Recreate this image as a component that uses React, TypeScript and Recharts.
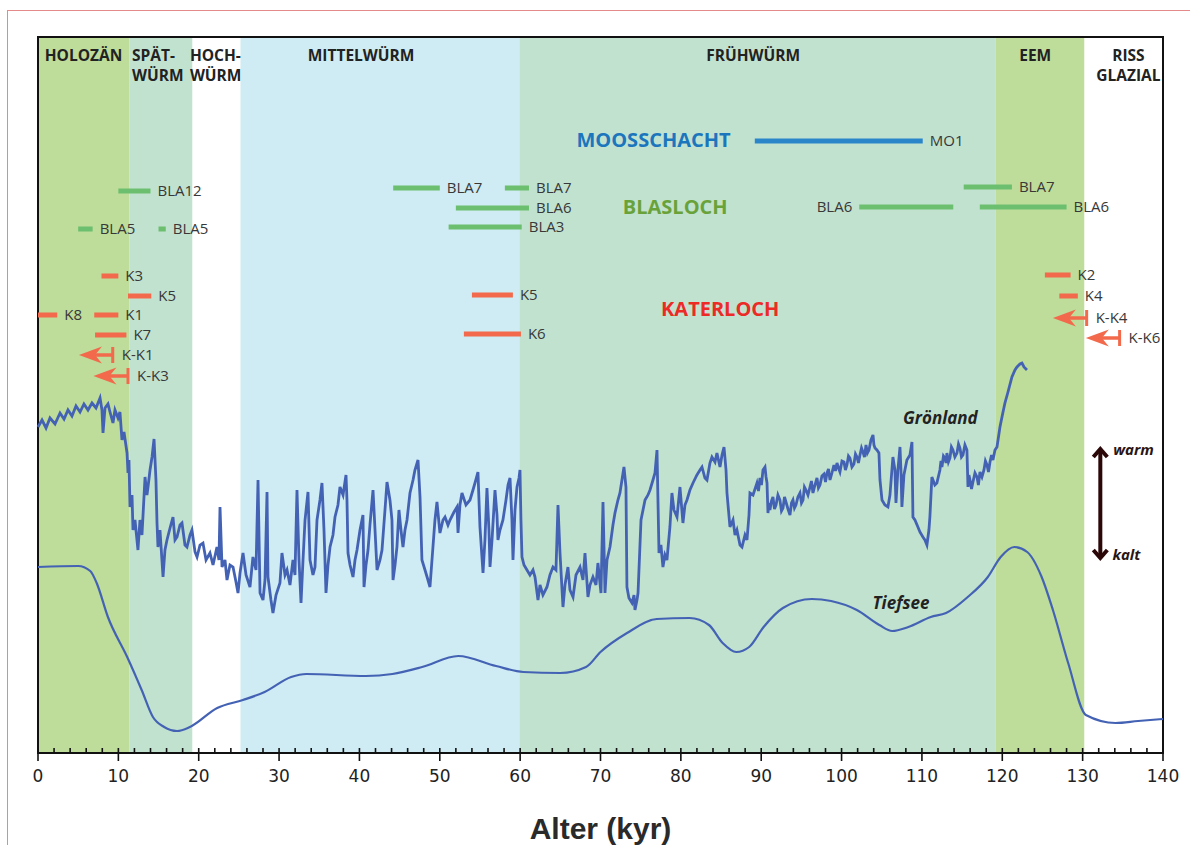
import React from 'react';
import { ComposedChart, XAxis, YAxis, Line, Scatter, ReferenceArea, ReferenceLine } from 'recharts';

const W = 1190;
const H = 845;
const FONT = "'Open Sans', 'DejaVu Sans', sans-serif";
const GREEN = '#6cbf6e';
const RED = '#f26a4b';
const BLUE = '#2a86c9';
const CURVE = '#4462b4';

// x axis ticks (kyr); labelled every 10
const xTicks = [0, 2, 4, 6, 8, 10, 12, 14, 16, 18, 20, 22, 24, 26, 28, 30, 32, 34, 36, 38, 40, 42, 44, 46, 48, 50, 52, 54, 56, 58, 60, 62, 64, 66, 68, 70, 72, 74, 76, 78, 80, 82, 84, 86, 88, 90, 92, 94, 96, 98, 100, 102, 104, 106, 108, 110, 112, 114, 116, 118, 120, 122, 124, 126, 128, 130, 132, 134, 136, 138, 140];

// climate periods (kyr)
const periodBounds = [
  { from: 0, to: 11.4, kind: 'warm' },
  { from: 11.4, to: 19.2, kind: 'late' },
  { from: 25.2, to: 59.9, kind: 'mid' },
  { from: 59.9, to: 119.2, kind: 'late' },
  { from: 119.2, to: 130.2, kind: 'warm' },
];
const periodFill: Record<string, string> = { warm: '#bedc9a', late: '#c2e2d0', mid: '#cfebf3' };

const periodLabels = [
  { age: 5.66, value: 698, lines: ['HOLOZÄN'], anchor: 'middle' },
  { age: 11.7, value: 698, lines: ['SPÄT-', 'WÜRM'], anchor: 'start' },
  { age: 18.9, value: 698, lines: ['HOCH-', 'WÜRM'], anchor: 'start' },
  { age: 40.2, value: 698, lines: ['MITTELWÜRM'], anchor: 'middle' },
  { age: 89.0, value: 698, lines: ['FRÜHWÜRM'], anchor: 'middle' },
  { age: 124.1, value: 698, lines: ['EEM'], anchor: 'middle' },
  { age: 135.7, value: 698, lines: ['RISS', 'GLAZIAL'], anchor: 'middle' },
];

const siteTitles = [
  { age: 76.6, value: 613, text: 'MOOSSCHACHT', site: 'moos' },
  { age: 79.3, value: 546, text: 'BLASLOCH', site: 'bla' },
  { age: 84.9, value: 444, text: 'KATERLOCH', site: 'kat' },
];
const siteColor: Record<string, string> = { moos: '#1b76bd', bla: '#6aa23a', kat: '#ec2a26' };

const curveLabels = [
  { age: 112.3, value: 335, text: 'Grönland' },
  { age: 107.4, value: 150, text: 'Tiefsee' },
];

const tempLabels = [
  { age: 133.8, value: 303, text: 'warm' },
  { age: 133.7, value: 198, text: 'kalt' },
];
const tempArrow = { age: 132.2, top: 306, bottom: 193 };

// dating ranges
const moosschachtBars = [{ label: 'MO1', from: 89.2, to: 110.1, level: 612, side: 'right' }];

const blaslochBars = [
  { label: 'BLA12', from: 10.0, to: 14.0, level: 562, side: 'right' },
  { label: 'BLA5', from: 5.0, to: 6.8, level: 524, side: 'right' },
  { label: 'BLA5', from: 15.0, to: 15.9, level: 524, side: 'right' },
  { label: 'BLA7', from: 44.2, to: 50.0, level: 565, side: 'right' },
  { label: 'BLA7', from: 58.1, to: 61.1, level: 565, side: 'right' },
  { label: 'BLA6', from: 52.0, to: 61.1, level: 545, side: 'right' },
  { label: 'BLA3', from: 51.1, to: 60.2, level: 526, side: 'right' },
  { label: 'BLA7', from: 115.2, to: 121.2, level: 566, side: 'right' },
  { label: 'BLA6', from: 102.2, to: 113.9, level: 546, side: 'left' },
  { label: 'BLA6', from: 117.2, to: 128.0, level: 546, side: 'right' },
];

const katerlochBars = [
  { label: 'K3', from: 7.9, to: 10.0, level: 477, side: 'right' },
  { label: 'K5', from: 11.2, to: 14.1, level: 457, side: 'right' },
  { label: 'K8', from: 0.0, to: 2.4, level: 438, side: 'right' },
  { label: 'K1', from: 7.0, to: 10.0, level: 438, side: 'right' },
  { label: 'K7', from: 7.1, to: 11.0, level: 418, side: 'right' },
  { label: 'K5', from: 54.0, to: 59.1, level: 458, side: 'right' },
  { label: 'K6', from: 53.0, to: 60.1, level: 419, side: 'right' },
  { label: 'K2', from: 125.3, to: 128.5, level: 478, side: 'right' },
  { label: 'K4', from: 127.1, to: 129.4, level: 457, side: 'right' },
];

const katerlochArrows = [
  { label: 'K-K1', tip: 5.1, at: 9.3, level: 398 },
  { label: 'K-K3', tip: 6.9, at: 11.2, level: 377 },
  { label: 'K-K4', tip: 126.3, at: 130.5, level: 435 },
  { label: 'K-K6', tip: 130.4, at: 134.6, level: 415 },
];

// Greenland ice core record [age kyr, relative value]
const greenland: [number, number][] = [
  [0, 326], [0.5, 333], [1.0, 325], [1.49, 335], [2.12, 329], [2.74, 340], [3.24, 334], [3.73, 343], [4.23, 337], [4.73, 347],
  [5.23, 341], [5.72, 349], [6.22, 343], [6.72, 350], [7.22, 345], [7.72, 355], [7.96, 343], [8.09, 320], [8.34, 345], [8.71, 349],
  [8.96, 341], [9.33, 330], [9.58, 343], [9.96, 335], [10.2, 341], [10.45, 313], [10.7, 321], [11.08, 300], [11.2, 280], [11.32, 293],
  [11.45, 246], [11.7, 258], [11.82, 223], [12.07, 233], [12.44, 203], [12.69, 233], [12.94, 218], [13.32, 276], [13.56, 258], [13.69, 266],
  [13.94, 283], [14.19, 296], [14.44, 314], [14.68, 273], [14.81, 230], [14.93, 206], [15.18, 223], [15.56, 176], [15.8, 203], [16.05, 213],
  [16.43, 225], [16.8, 236], [17.05, 213], [17.3, 216], [17.67, 228], [17.92, 230], [18.29, 208], [18.54, 206], [18.92, 218], [19.16, 223],
  [19.54, 201], [19.79, 196], [20.16, 208], [20.53, 210], [20.91, 193], [21.4, 200], [21.78, 188], [22.27, 206], [22.52, 193], [22.65, 246],
  [22.9, 186], [23.27, 193], [23.52, 173], [23.89, 188], [24.27, 186], [24.64, 171], [24.89, 160], [25.14, 180], [25.51, 200], [25.89, 178],
  [26.38, 166], [26.75, 196], [27.13, 183], [27.38, 273], [27.63, 160], [28.0, 153], [28.25, 173], [28.5, 261], [28.62, 176], [28.99, 153],
  [29.24, 140], [29.62, 158], [30.11, 170], [30.36, 200], [30.74, 178], [30.99, 183], [31.36, 168], [31.73, 193], [31.98, 178], [32.23, 263],
  [32.48, 193], [32.73, 150], [32.98, 193], [33.23, 233], [33.6, 261], [33.85, 193], [34.22, 178], [34.47, 186], [34.72, 233], [35.09, 253],
  [35.34, 270], [35.59, 223], [35.71, 193], [35.84, 160], [36.09, 188], [36.34, 206], [36.71, 218], [36.96, 236], [37.33, 248], [37.58, 266],
  [37.96, 258], [38.33, 278], [38.45, 253], [38.58, 200], [38.83, 188], [39.2, 176], [39.45, 193], [39.7, 203], [40.07, 223], [40.44, 238],
  [40.57, 166], [40.82, 188], [41.07, 203], [41.31, 228], [41.69, 263], [41.94, 223], [42.19, 183], [42.56, 193], [42.81, 203], [43.18, 243],
  [43.43, 271], [43.8, 253], [44.05, 233], [44.18, 173], [44.43, 188], [44.67, 206], [44.92, 243], [45.17, 223], [45.42, 206], [45.67, 223],
  [45.92, 233], [46.29, 260], [46.67, 273], [46.91, 283], [47.29, 293], [47.54, 256], [47.78, 193], [48.16, 183], [48.53, 173], [48.78, 166],
  [49.15, 206], [49.4, 233], [49.65, 251], [50.02, 220], [50.4, 233], [50.65, 236], [51.02, 228], [51.27, 233], [51.77, 241], [52.14, 246],
  [52.27, 220], [52.51, 248], [52.76, 260], [53.26, 248], [53.76, 253], [54.13, 263], [54.38, 270], [54.75, 281], [55.0, 226], [55.38, 180],
  [55.62, 213], [55.87, 265], [56.12, 223], [56.25, 186], [56.5, 213], [56.87, 263], [57.12, 238], [57.24, 213], [57.49, 223], [57.86, 233],
  [58.24, 253], [58.49, 268], [58.74, 275], [58.98, 233], [59.11, 193], [59.36, 243], [59.61, 266], [59.86, 275], [59.98, 283], [60.1, 233],
  [60.23, 196], [60.48, 188], [60.85, 183], [61.22, 178], [61.6, 183], [61.85, 176], [62.22, 153], [62.47, 168], [62.84, 158], [63.34, 166],
  [63.71, 178], [64.09, 186], [64.46, 183], [64.71, 248], [64.96, 200], [65.33, 146], [65.58, 168], [65.95, 186], [66.2, 163], [66.58, 156],
  [66.95, 178], [67.45, 186], [67.82, 173], [68.07, 200], [68.44, 156], [68.69, 168], [69.06, 176], [69.44, 168], [69.68, 190], [70.06, 160],
  [70.31, 251], [70.56, 160], [70.81, 193], [71.18, 206], [71.55, 228], [71.8, 240], [72.17, 253], [72.42, 260], [72.67, 273], [72.92, 286],
  [73.17, 266], [73.29, 166], [73.54, 155], [73.92, 150], [74.17, 158], [74.29, 143], [74.54, 153], [74.67, 160], [75.04, 233], [75.29, 243],
  [75.54, 253], [75.91, 258], [76.16, 263], [76.53, 273], [76.78, 280], [77.03, 303], [77.28, 200], [77.52, 208], [77.77, 186], [78.02, 198],
  [78.27, 193], [78.64, 226], [78.89, 260], [79.14, 243], [79.52, 236], [79.89, 266], [80.26, 230], [80.51, 248], [80.76, 253], [81.13, 263],
  [81.51, 270], [82.0, 278], [82.38, 283], [82.63, 286], [83.0, 275], [83.25, 273], [83.62, 290], [83.87, 296], [84.25, 291], [84.49, 300],
  [84.87, 286], [85.12, 298], [85.37, 306], [85.62, 283], [85.74, 260], [86.11, 226], [86.49, 233], [86.74, 218], [86.98, 223], [87.36, 208],
  [87.61, 206], [87.98, 218], [88.23, 213], [88.48, 238], [88.6, 260], [88.98, 258], [89.47, 270], [89.66, 262], [89.85, 275], [90.03, 268],
  [90.22, 283], [90.47, 286], [90.6, 276], [90.72, 270], [90.84, 240], [90.96, 250], [91.09, 243], [91.27, 252], [91.46, 256], [91.65, 244],
  [91.84, 248], [92.08, 258], [92.33, 253], [92.52, 242], [92.71, 245], [92.9, 256], [93.08, 251], [93.33, 244], [93.58, 238], [93.77, 250],
  [93.95, 253], [94.14, 245], [94.32, 248], [94.57, 256], [94.82, 260], [95.01, 250], [95.2, 253], [95.38, 266], [95.57, 263], [95.82, 258],
  [96.07, 266], [96.25, 272], [96.44, 260], [96.69, 268], [96.94, 275], [97.12, 265], [97.31, 268], [97.56, 277], [97.81, 279], [98.0, 271],
  [98.18, 280], [98.37, 284], [98.56, 273], [98.8, 280], [99.05, 288], [99.24, 282], [99.43, 290], [99.62, 285], [99.8, 281], [100.05, 292],
  [100.3, 291], [100.48, 283], [100.67, 288], [100.86, 297], [101.04, 295], [101.29, 286], [101.54, 289], [101.73, 299], [101.92, 296], [102.1, 290],
  [102.29, 298], [102.48, 305], [102.66, 301], [102.85, 296], [103.04, 308], [103.22, 300], [103.41, 303], [103.66, 313], [103.91, 318], [104.03, 308],
  [104.16, 305], [104.4, 303], [104.65, 300], [104.78, 273], [105.03, 253], [105.4, 248], [105.77, 246], [106.02, 258], [106.39, 296], [106.64, 283],
  [106.77, 250], [107.01, 283], [107.27, 306], [107.39, 283], [107.51, 246], [107.76, 278], [108.13, 293], [108.51, 298], [108.76, 311], [108.88, 236],
  [109.13, 233], [109.5, 226], [109.75, 221], [110.12, 216], [110.37, 213], [110.62, 208], [110.87, 223], [110.99, 236], [111.24, 276], [111.61, 268],
  [111.86, 270], [112.24, 283], [112.37, 292], [112.49, 286], [112.68, 297], [112.86, 295], [113.0, 290], [113.11, 300], [113.3, 291], [113.49, 295],
  [113.67, 306], [113.86, 303], [114.1, 296], [114.36, 300], [114.55, 309], [114.73, 305], [114.92, 296], [115.11, 298], [115.35, 308], [115.6, 303],
  [115.73, 266], [115.85, 278], [115.98, 273], [116.17, 264], [116.35, 271], [116.6, 280], [116.85, 276], [117.03, 268], [117.22, 281], [117.47, 276],
  [117.72, 283], [117.9, 292], [118.1, 288], [118.28, 281], [118.47, 291], [118.66, 298], [118.84, 293], [119.09, 303], [119.34, 306], [119.71, 326],
  [120.09, 341], [120.33, 350], [120.71, 361], [121.2, 376], [121.58, 383], [121.83, 386], [122.2, 389], [122.45, 390], [122.7, 386], [123.07, 383],
];

// Deep-sea record [age kyr, relative value]
const tiefsee: [number, number][] = [
  [0, 186], [5.0, 187], [6.5, 182], [7.3, 170], [8.7, 136], [11.1, 96], [12.9, 63], [14.3, 36], [15.7, 26], [17.3, 22],
  [18.9, 26], [22.3, 45], [25.5, 53], [28.2, 61], [31.5, 76], [33.4, 79], [40.8, 77], [44.1, 79], [47.8, 86], [52.3, 97],
  [57.0, 87], [60.4, 81], [65.0, 80], [68.2, 86], [70.0, 101], [73.3, 120], [77.0, 134], [81.1, 135], [83.5, 128], [85.2, 110],
  [86.9, 101], [88.5, 106], [90.3, 126], [92.7, 145], [96.3, 154], [98.7, 152], [101.9, 143], [104.7, 128], [106.3, 122], [108.3, 126],
  [111.1, 136], [113.0, 140], [115.7, 156], [118.2, 176], [119.8, 196], [121.5, 206], [123.1, 201], [124.9, 176], [126.3, 143], [128.2, 90],
  [130.4, 38], [134.1, 30], [136.9, 32], [140, 34],
];

const greenlandData = greenland.map(([age, value]) => ({ age, value }));
const tiefseeData = tiefsee.map(([age, value]) => ({ age, value }));

const AgeTick = (props: any) => {
  const { x, y, payload } = props;
  const v = payload.value;
  const major = v % 10 === 0;
  return (
    <g>
      <line x1={x} x2={x} y1={y - 5} y2={major ? y + 8 : y} stroke="#111" strokeWidth={1.6} />
      {major && (
        <text x={x} y={y + 29} textAnchor="middle" fontFamily="'DejaVu Sans', sans-serif" fontSize={17} fill="#222">
          {v}
        </text>
      )}
    </g>
  );
};

const PeriodLabel = (props: any) => {
  const { cx, cy, payload } = props;
  return (
    <text x={cx} y={cy + 6} textAnchor={payload.anchor} fontFamily={FONT} fontWeight={700} fontSize={15.5} fill="#222">
      {payload.lines.map((l: string, i: number) => (
        <tspan key={i} x={cx} dy={i === 0 ? 0 : 20}>{l}</tspan>
      ))}
    </text>
  );
};

const SiteTitle = (props: any) => {
  const { cx, cy, payload } = props;
  return (
    <text x={cx} y={cy + 7} textAnchor="middle" fontFamily={FONT} fontWeight={700} fontSize={20} fill={siteColor[payload.site]}>
      {payload.text}
    </text>
  );
};

const CurveLabel = (props: any) => {
  const { cx, cy, payload } = props;
  return (
    <text x={cx} y={cy + 6} textAnchor="middle" fontFamily={FONT} fontWeight={700} fontStyle="italic" fontSize={17} fill="#222">
      {payload.text}
    </text>
  );
};

const TempLabel = (props: any) => {
  const { cx, cy, payload } = props;
  return (
    <text x={cx} y={cy + 5} textAnchor="start" fontFamily={FONT} fontWeight={700} fontStyle="italic" fontSize={15} fill="#2a1515">
      {payload.text}
    </text>
  );
};

const ArrowShape = (p: any) => {
  const left = Math.min(p.x1, p.x2);
  const right = Math.max(p.x1, p.x2);
  const y = p.y1;
  return (
    <g>
      <line x1={left + 14} x2={right} y1={y} y2={y} stroke={RED} strokeWidth={3.5} />
      <path d={`M${left},${y} L${left + 23},${y - 8.5} L${left + 16},${y} L${left + 23},${y + 8.5} Z`} fill={RED} />
      <line x1={right} x2={right} y1={y - 8} y2={y + 8} stroke={RED} strokeWidth={3} />
    </g>
  );
};

const DoubleArrowShape = (p: any) => {
  const x = p.x1;
  const top = Math.min(p.y1, p.y2);
  const bottom = Math.max(p.y1, p.y2);
  const c = '#2b0707';
  return (
    <g>
      <line x1={x} x2={x} y1={top + 2} y2={bottom - 2} stroke={c} strokeWidth={4} />
      <path d={`M${x - 7},${top + 10} L${x},${top + 2} L${x + 7},${top + 10}`} fill="none" stroke={c} strokeWidth={4} />
      <path d={`M${x - 7},${bottom - 10} L${x},${bottom - 2} L${x + 7},${bottom - 10}`} fill="none" stroke={c} strokeWidth={4} />
    </g>
  );
};

const barLabel = (text: string, side: string) => ({
  value: text,
  position: side === 'left' ? 'left' : 'right',
  offset: 7,
  fill: '#383838',
  fontSize: 15,
  fontFamily: FONT,
});

export default function App() {
  return (
    <div style={{ position: 'relative', width: W, height: H, overflow: 'hidden', background: '#fff' }}>
      <style>{'body{margin:0;overflow:hidden}'}</style>
      <div
        style={{
          position: 'absolute',
          left: 7,
          top: 10,
          width: 1300,
          height: 1000,
          borderLeft: '1.5px solid #e48a8a',
          borderTop: '1.5px solid #e48a8a',
        }}
      />
      <ComposedChart width={W} height={H} margin={{ top: 37, right: 27, bottom: 32, left: 38 }}>
        <XAxis
          dataKey="age"
          type="number"
          domain={[0, 140]}
          ticks={xTicks}
          interval={0}
          tickSize={0}
          tickMargin={0}
          tickLine={false}
          tick={AgeTick}
          height={60}
          axisLine={{ stroke: '#111', strokeWidth: 2 }}
          label={{ value: 'Alter (kyr)', position: 'insideBottom', offset: -26, fontSize: 30, fontWeight: 700, fill: '#2a2a2a', fontFamily: "'Liberation Sans', Arial, sans-serif" }}
        />
        <YAxis type="number" domain={[0, 716]} hide />

        {periodBounds.map((p, i) => (
          <ReferenceArea key={'p' + i} x1={p.from} x2={p.to} y1={0} y2={716} fill={periodFill[p.kind]} fillOpacity={1} stroke="none" />
        ))}

        <Line data={tiefseeData} dataKey="value" type="monotone" stroke={CURVE} strokeWidth={2.2} dot={false} isAnimationActive={false} />
        <Line data={greenlandData} dataKey="value" type="linear" stroke={CURVE} strokeWidth={2.8} dot={false} isAnimationActive={false} />

        {moosschachtBars.map((b, i) => (
          <ReferenceLine key={'m' + i} segment={[{ x: b.from, y: b.level }, { x: b.to, y: b.level }]} stroke={BLUE} strokeWidth={5} label={barLabel(b.label, b.side) as any} />
        ))}
        {blaslochBars.map((b, i) => (
          <ReferenceLine key={'b' + i} segment={[{ x: b.from, y: b.level }, { x: b.to, y: b.level }]} stroke={GREEN} strokeWidth={5} label={barLabel(b.label, b.side) as any} />
        ))}
        {katerlochBars.map((b, i) => (
          <ReferenceLine key={'k' + i} segment={[{ x: b.from, y: b.level }, { x: b.to, y: b.level }]} stroke={RED} strokeWidth={5} label={barLabel(b.label, b.side) as any} />
        ))}
        {katerlochArrows.map((a, i) => (
          <ReferenceLine
            key={'a' + i}
            segment={[{ x: a.tip, y: a.level }, { x: a.at, y: a.level }]}
            stroke={RED}
            shape={ArrowShape}
            label={{ value: a.label, position: 'right', offset: 9, fill: '#383838', fontSize: 15, fontFamily: FONT } as any}
          />
        ))}
        <ReferenceLine segment={[{ x: tempArrow.age, y: tempArrow.top }, { x: tempArrow.age, y: tempArrow.bottom }]} stroke="#2b0707" shape={DoubleArrowShape} />

        <Scatter data={periodLabels} dataKey="value" shape={PeriodLabel} isAnimationActive={false} />
        <Scatter data={siteTitles} dataKey="value" shape={SiteTitle} isAnimationActive={false} />
        <Scatter data={curveLabels} dataKey="value" shape={CurveLabel} isAnimationActive={false} />
        <Scatter data={tempLabels} dataKey="value" shape={TempLabel} isAnimationActive={false} />

        <ReferenceArea x1={0} x2={140} y1={0} y2={716} fill="none" stroke="#111" strokeWidth={2} />
      </ComposedChart>
    </div>
  );
}
